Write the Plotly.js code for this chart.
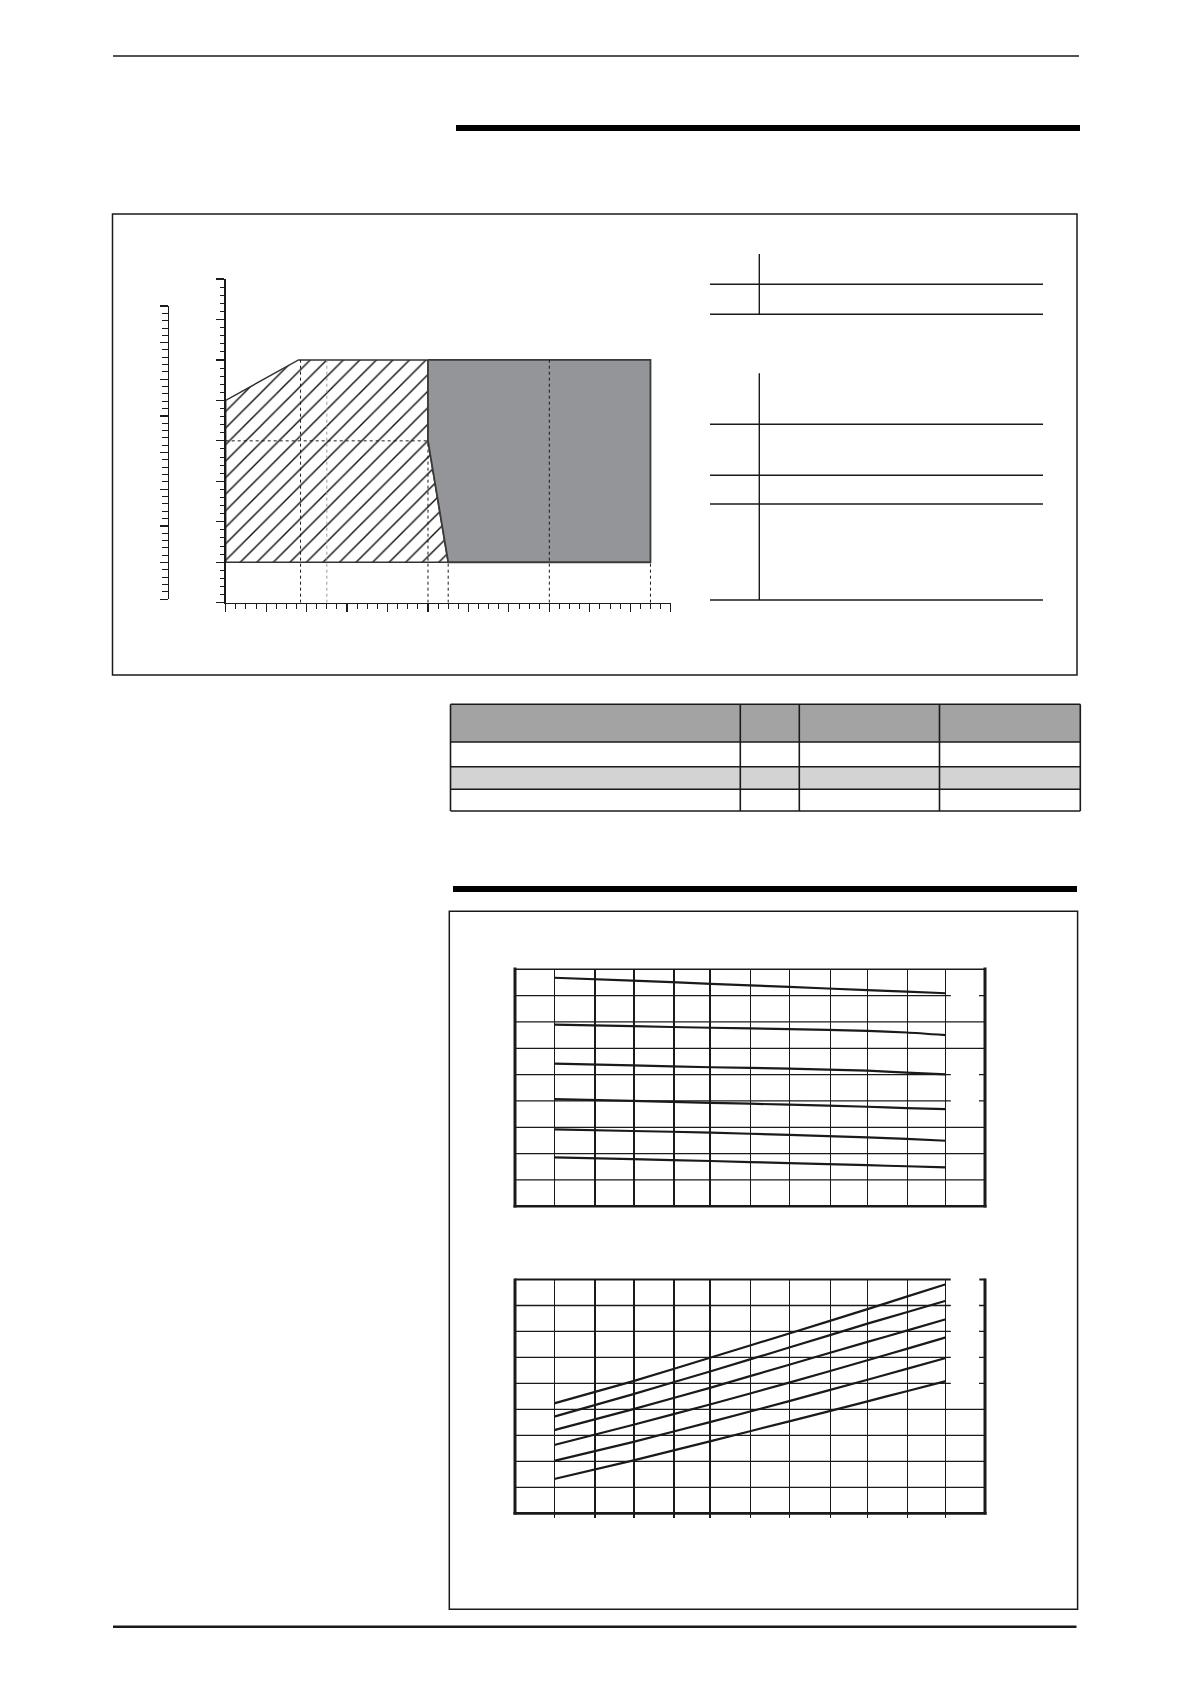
<!DOCTYPE html>
<html>
<head>
<meta charset="utf-8">
<script src="https://cdn.plot.ly/plotly-3.0.1.min.js"></script>
<style>
  html, body { margin: 0; padding: 0; background: #fff; }
  #pagina { width: 1190px; height: 1684px; }
</style>
</head>
<body>
<div id="pagina"></div>
<script>
"use strict";

// Campo de funcionamiento (gráfico 1)
const zonaRayadaX = [0, 0, 1.8, 5, 5, 5.5, 0];
const zonaRayadaY = [1, 5, 6, 6, 4, 1, 1];
const zonaGrisX = [5, 10.5, 10.5, 5.5, 5, 5];
const zonaGrisY = [6, 6, 1, 1, 4, 6];
const guiasX = [1.85, 5, 5.5, 8, 10.5];      // líneas discontinuas verticales
const guiasAlto = [6, 4, 1, 6, 1];
const guiaGrisX = 2.5;
const guiaGrisAlto = 6;
const guiaHorizontalY = 4;

// Curvas (gráficos 2 y 3)
const rejillaX = [0, 1.04, 2.04, 3.06, 3.98, 5.02, 6.01, 7.06, 8.0, 9.02, 10];
const curvaX = [0, 2, 4, 6, 8, 9, 10];
const curvasSuperiores = [
    [8.68, 8.57, 8.45, 8.33, 8.21, 8.15, 8.09],
    [6.90, 6.84, 6.78, 6.73, 6.66, 6.60, 6.50],
    [5.42, 5.35, 5.28, 5.23, 5.15, 5.08, 5.01],
    [4.07, 4.00, 3.93, 3.86, 3.78, 3.73, 3.69],
    [2.92, 2.86, 2.80, 2.71, 2.62, 2.56, 2.49],
    [1.86, 1.79, 1.72, 1.64, 1.56, 1.52, 1.48]
];
const curvasInferiores = [
    [4.23, 5.08, 6.00, 6.92, 7.86, 8.34, 8.82],
    [3.72, 4.58, 5.47, 6.38, 7.30, 7.74, 8.18],
    [3.20, 4.00, 4.84, 5.72, 6.60, 7.03, 7.47],
    [2.63, 3.40, 4.20, 5.03, 5.89, 6.33, 6.77],
    [2.02, 2.74, 3.52, 4.32, 5.14, 5.56, 5.98],
    [1.32, 2.03, 2.78, 3.54, 4.31, 4.70, 5.09]
];
const nivelesY = [1, 2, 3, 4, 5, 6, 7, 8];
// filas donde la rejilla se corta en la columna derecha (sitio de las etiquetas)
const cortesSuperiores = [4, 5, 8];
const cortesInferiores = [5, 6, 7, 8];

// ---------- utilidades de página ----------
const W = 1190, H = 1684;
const px = v => v / W;
const py = v => 1 - v / H;
const NEGRO = '#1a1a1a';

function linea(x0, y0, x1, y1, ancho, extra) {
    return Object.assign({
        type: 'line', xref: 'paper', yref: 'paper',
        x0: px(x0), y0: py(y0), x1: px(x1), y1: py(y1),
        line: { color: NEGRO, width: ancho }
    }, extra || {});
}

function rect(x0, y0, x1, y1, relleno, ancho) {
    return {
        type: 'rect', xref: 'paper', yref: 'paper',
        x0: px(x0), y0: py(y1), x1: px(x1), y1: py(y0),
        fillcolor: relleno,
        line: { color: NEGRO, width: ancho }
    };
}

const shapes = [];

// cabecera y pie de página
shapes.push(linea(113, 56, 1079, 56, 1.5));
shapes.push(rect(456, 125, 1080, 131, '#000', 0));
shapes.push(rect(112.5, 214, 1077, 675, 'rgba(0,0,0,0)', 1.5));
shapes.push(rect(453, 886, 1077, 892, '#000', 0));
shapes.push(rect(449.3, 911.3, 1077.6, 1609.3, 'rgba(0,0,0,0)', 1.5));
shapes.push(linea(113, 1626.7, 1076.5, 1626.7, 2.5));

// leyenda a la derecha del gráfico 1
shapes.push(linea(759.3, 254, 759.3, 314.3, 1.4));
[284.3, 314.3].forEach(y => shapes.push(linea(710, y, 1043, y, 1.4)));
shapes.push(linea(759.3, 373.3, 759.3, 600, 1.4));
[424.3, 475.3, 504, 600].forEach(y => shapes.push(linea(710, y, 1043, y, 1.4)));

// tabla
const tablaCol = [450.5, 740.3, 799.3, 939.5, 1080.3];
const tablaFila = [704.3, 742, 766.7, 789.3, 811];
shapes.push(rect(450.5, 704.3, 1080.3, 742, '#a3a3a3', 0));
shapes.push(rect(450.5, 766.7, 1080.3, 789.3, '#d3d3d3', 0));
tablaFila.forEach(y => shapes.push(linea(450.5, y, 1080.3, y, 1.6)));
tablaCol.forEach(x => shapes.push(linea(x, 704.3, x, 811, 1.6)));

// guías discontinuas del gráfico 1
guiasX.forEach((gx, i) => shapes.push({
    type: 'line', xref: 'x', yref: 'y', x0: gx, x1: gx, y0: 0, y1: guiasAlto[i],
    line: { color: NEGRO, width: 1, dash: '3px,3px' }
}));
shapes.push({
    type: 'line', xref: 'x', yref: 'y', x0: guiaGrisX, x1: guiaGrisX, y0: 0, y1: guiaGrisAlto,
    line: { color: '#9a9a9a', width: 1, dash: '3px,3px' }
});
shapes.push({
    type: 'line', xref: 'x', yref: 'y', x0: 0, x1: 5, y0: guiaHorizontalY, y1: guiaHorizontalY,
    line: { color: NEGRO, width: 1, dash: '3px,3px' }
});

// rejilla horizontal de los gráficos 2 y 3 (con cortes en la columna derecha)
const paso = 39.24;
function rejillaHorizontal(eje, cortes) {
    nivelesY.forEach(n => {
        const base = { type: 'line', xref: 'x' + eje, yref: 'y' + eje, y0: n, y1: n,
                       line: { color: NEGRO, width: 1.3 } };
        shapes.push(Object.assign({}, base, { x0: -1, x1: 10 }));
        if (cortes.includes(n)) {
            shapes.push(Object.assign({}, base, { x0: 10, x1: 10 + 5 / paso }));
            shapes.push(Object.assign({}, base, { x0: 11 - 6 / paso, x1: 11 }));
        } else {
            shapes.push(Object.assign({}, base, { x0: 10, x1: 11 }));
        }
    });
}
rejillaHorizontal(3, cortesSuperiores);
rejillaHorizontal(4, cortesInferiores);

// marcos de los gráficos 2 y 3
shapes.push(linea(515, 969.3, 985, 969.3, 1.6));
shapes.push(linea(515, 967.5, 515, 1207.5, 3));
shapes.push(linea(985, 967.5, 985, 1207.5, 3));
shapes.push(linea(513.5, 1206.3, 986.5, 1206.3, 2.6));

shapes.push(linea(515, 1279.5, 950.7, 1279.5, 2));
shapes.push(linea(979.3, 1279.5, 985, 1279.5, 2));
shapes.push(linea(515, 1278.5, 515, 1514.5, 3));
shapes.push(linea(985, 1278.5, 985, 1514.5, 3));
shapes.push(linea(513.5, 1513.3, 986.5, 1513.3, 2.8));

// ---------- trazas ----------
const traces = [];

traces.push({
    x: zonaRayadaX, y: zonaRayadaY, xaxis: 'x', yaxis: 'y',
    type: 'scatter', mode: 'lines', fill: 'toself', fillcolor: '#ffffff',
    fillpattern: { shape: '/', size: 11.7, solidity: 0.12, fgcolor: '#111', bgcolor: '#ffffff' },
    line: { color: '#333', width: 1.5 }, hoverinfo: 'skip'
});
traces.push({
    x: zonaGrisX, y: zonaGrisY, xaxis: 'x', yaxis: 'y',
    type: 'scatter', mode: 'lines', fill: 'toself', fillcolor: '#939598',
    line: { color: '#3a3a3a', width: 1.8 }, hoverinfo: 'skip'
});
// traza vacía para el eje secundario
traces.push({ x: [], y: [], xaxis: 'x2', yaxis: 'y2', type: 'scatter', mode: 'lines' });

curvasSuperiores.forEach(valores => traces.push({
    x: curvaX, y: valores, xaxis: 'x3', yaxis: 'y3', type: 'scatter', mode: 'lines',
    line: { color: NEGRO, width: 2.2, shape: 'spline', smoothing: 0.6 }
}));
curvasInferiores.forEach(valores => traces.push({
    x: curvaX, y: valores, xaxis: 'x4', yaxis: 'y4', type: 'scatter', mode: 'lines',
    line: { color: NEGRO, width: 2.2, shape: 'spline', smoothing: 0.6 }
}));

// ---------- ejes ----------
const ejeMudo = {
    showticklabels: false, showgrid: false, zeroline: false, showline: false, ticks: ''
};

const layout = {
    width: W, height: H,
    margin: { l: 0, r: 0, t: 0, b: 0 },
    paper_bgcolor: '#ffffff', plot_bgcolor: 'rgba(0,0,0,0)',
    showlegend: false,
    shapes: shapes,

    xaxis: Object.assign({}, ejeMudo, {
        domain: [px(225.7), px(670.7)], range: [0, 11], anchor: 'y',
        showline: true, linecolor: NEGRO, linewidth: 1.5,
        ticks: 'outside', tick0: 0, dtick: 1, ticklen: 8, tickwidth: 1.2, tickcolor: NEGRO,
        minor: { ticks: 'outside', dtick: 0.25, ticklen: 5, tickwidth: 1, tickcolor: NEGRO, showgrid: false }
    }),
    yaxis: Object.assign({}, ejeMudo, {
        domain: [py(602.7), py(279)], range: [0, 8], anchor: 'x',
        showline: true, linecolor: NEGRO, linewidth: 1.5,
        ticks: 'outside', tick0: 0, dtick: 1, ticklen: 8, tickwidth: 1.2, tickcolor: NEGRO,
        minor: { ticks: 'outside', dtick: 0.2, ticklen: 4, tickwidth: 1, tickcolor: NEGRO, showgrid: false }
    }),
    xaxis2: Object.assign({}, ejeMudo, {
        domain: [px(169.3), px(175)], range: [0, 1], anchor: 'y2', visible: false
    }),
    yaxis2: Object.assign({}, ejeMudo, {
        domain: [py(599.3), py(306)], range: [0, 8], anchor: 'x2',
        showline: true, linecolor: NEGRO, linewidth: 1.5,
        ticks: 'outside', tick0: 0, dtick: 1, ticklen: 8, tickwidth: 1.2, tickcolor: NEGRO,
        minor: { ticks: 'outside', dtick: 0.2, ticklen: 6, tickwidth: 1, tickcolor: NEGRO, showgrid: false }
    }),
    xaxis3: Object.assign({}, ejeMudo, {
        domain: [px(515), px(985)], range: [-1, 11], anchor: 'y3',
        tickmode: 'array', tickvals: rejillaX,
        showgrid: true, gridcolor: NEGRO, gridwidth: 1.3
    }),
    yaxis3: Object.assign({}, ejeMudo, {
        domain: [py(1206.3), py(969.3)], range: [0, 9], anchor: 'x3'
    }),
    xaxis4: Object.assign({}, ejeMudo, {
        domain: [px(515), px(985)], range: [-1, 11], anchor: 'y4',
        tickmode: 'array', tickvals: rejillaX,
        showgrid: true, gridcolor: NEGRO, gridwidth: 1.3,
        ticks: 'outside', ticklen: 4, tickwidth: 1.2, tickcolor: NEGRO
    }),
    yaxis4: Object.assign({}, ejeMudo, {
        domain: [py(1513.3), py(1279.5)], range: [0, 9], anchor: 'x4'
    })
};

const config = { staticPlot: true, displayModeBar: false, responsive: false };

Plotly.newPlot('pagina', traces, layout, config);
</script>
</body>
</html>
